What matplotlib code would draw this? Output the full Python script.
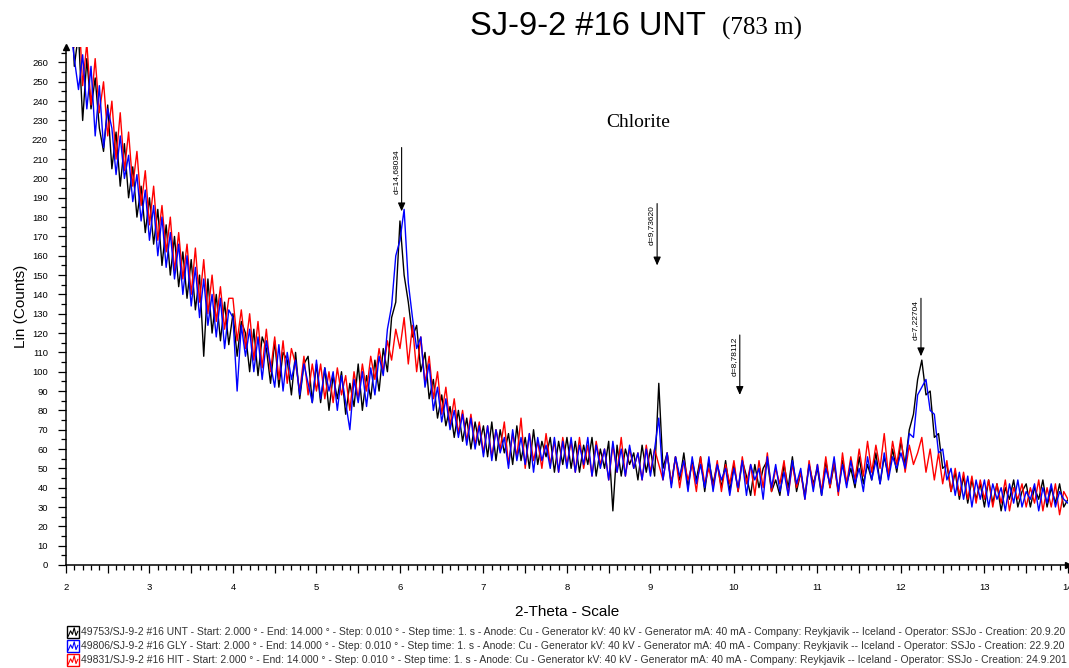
import numpy as np
import matplotlib.pyplot as plt
from matplotlib.ticker import MultipleLocator, FuncFormatter
from matplotlib.patches import Rectangle
from matplotlib.lines import Line2D

# scan grid, 2-theta (deg)
two_theta = np.linspace(2.0, 14.0, 241)

# counts, 0.05 deg apart
unt_counts = [
    292, 306, 258, 275, 230, 262, 236, 252, 226, 214, 238, 205, 224, 196, 218, 190, 206, 180, 196, 172,
    190, 166, 184, 155, 176, 150, 170, 144, 162, 138, 158, 132, 150, 108, 148, 120, 140, 116, 136, 114,
    130, 108, 126, 120, 100, 122, 98, 118, 112, 94, 116, 92, 110, 106, 88, 110, 86, 104, 108, 84,
    104, 84, 102, 80, 98, 86, 100, 78, 94, 82, 104, 80, 98, 86, 106, 90, 112, 100, 128, 136,
    178, 150, 136, 118, 124, 100, 110, 86, 96, 76, 88, 72, 82, 66, 80, 64, 76, 60, 74, 62,
    72, 56, 74, 54, 70, 58, 68, 52, 72, 54, 66, 50, 70, 52, 64, 56, 66, 48, 64, 52,
    66, 50, 64, 48, 62, 52, 66, 46, 60, 50, 64, 28, 62, 46, 60, 52, 58, 44, 62, 48,
    60, 46, 94, 50, 58, 42, 56, 44, 58, 40, 54, 44, 56, 38, 54, 42, 52, 40, 54, 38,
    52, 38, 54, 46, 36, 52, 40, 50, 54, 38, 44, 36, 52, 40, 56, 38, 48, 36, 52, 42,
    50, 36, 54, 40, 52, 38, 54, 42, 50, 40, 56, 42, 52, 44, 58, 42, 56, 46, 60, 48,
    64, 52, 70, 78, 96, 106, 88, 90, 66, 68, 50, 52, 38, 48, 34, 46, 32, 44, 34, 42,
    30, 44, 32, 42, 28, 40, 34, 44, 30, 38, 42, 30, 40, 34, 44, 30, 40, 32, 42, 30,
    34,
]
gly_counts = [
    310, 280, 262, 246, 264, 236, 258, 222, 248, 216, 236, 226, 202, 222, 200, 212, 188, 202, 178, 194,
    168, 186, 160, 180, 154, 172, 148, 166, 140, 160, 134, 154, 128, 148, 124, 140, 118, 138, 112, 132,
    128, 90, 124, 108, 122, 100, 118, 96, 116, 104, 92, 114, 90, 110, 96, 106, 88, 104, 94, 84,
    106, 86, 102, 90, 100, 80, 98, 84, 70, 96, 84, 100, 82, 102, 88, 108, 98, 122, 134, 160,
    168, 184, 146, 128, 112, 118, 92, 104, 80, 92, 74, 86, 70, 80, 66, 78, 62, 76, 60, 72,
    56, 72, 54, 70, 58, 66, 50, 70, 54, 66, 52, 68, 48, 66, 54, 62, 50, 66, 48, 64,
    50, 66, 48, 62, 52, 66, 46, 62, 50, 60, 44, 64, 48, 60, 46, 62, 50, 58, 44, 60,
    46, 60, 76, 44, 58, 40, 56, 46, 54, 38, 56, 42, 52, 40, 56, 38, 52, 44, 50, 36,
    50, 40, 54, 36, 52, 44, 50, 34, 56, 40, 52, 38, 48, 36, 54, 42, 50, 34, 52, 38,
    52, 36, 50, 42, 56, 38, 52, 40, 54, 42, 50, 38, 56, 44, 54, 42, 58, 44, 56, 50,
    58, 50, 68, 66, 88, 92, 96, 80, 78, 58, 60, 44, 50, 36, 48, 34, 46, 30, 44, 34,
    44, 30, 42, 34, 40, 28, 42, 32, 44, 30, 38, 34, 42, 28, 40, 32, 42, 30, 38, 34,
    32,
]
hit_counts = [
    296, 312, 268, 290, 248, 270, 238, 262, 234, 250, 222, 240, 210, 234, 204, 224, 196, 214, 186, 204,
    176, 196, 168, 186, 162, 180, 152, 172, 148, 166, 140, 164, 136, 158, 130, 150, 126, 144, 122, 138,
    138, 116, 132, 112, 130, 106, 126, 102, 122, 100, 118, 96, 116, 94, 112, 104, 90, 108, 88, 104,
    90, 104, 86, 100, 84, 102, 88, 98, 80, 100, 86, 104, 90, 108, 96, 112, 100, 116, 106, 122,
    112, 128, 104, 124, 100, 118, 94, 108, 86, 100, 78, 92, 72, 86, 68, 80, 64, 78, 62, 74,
    58, 72, 56, 70, 60, 74, 52, 68, 56, 76, 50, 68, 54, 64, 50, 68, 52, 64, 48, 66,
    52, 64, 48, 66, 50, 62, 46, 64, 52, 60, 44, 62, 48, 66, 46, 60, 50, 58, 44, 62,
    48, 60, 52, 44, 58, 42, 56, 40, 54, 44, 52, 38, 56, 42, 50, 40, 54, 38, 52, 42,
    54, 38, 56, 42, 52, 36, 54, 40, 58, 38, 50, 42, 54, 36, 52, 40, 48, 34, 54, 40,
    52, 38, 56, 40, 54, 36, 58, 42, 56, 44, 60, 46, 64, 48, 62, 50, 68, 46, 64, 52,
    66, 48, 62, 52, 58, 66, 48, 60, 44, 58, 42, 54, 38, 50, 36, 48, 34, 46, 32, 44,
    34, 44, 30, 42, 32, 44, 28, 40, 34, 42, 30, 40, 32, 44, 28, 40, 30, 42, 26, 38,
    34,
]

scan_ids = ["49753/SJ-9-2 #16 UNT", "49806/SJ-9-2 #16 GLY", "49831/SJ-9-2 #16 HIT"]
creation = ["20.9.20", "22.9.20", "24.9.201"]
scan_colors = ["black", "blue", "red"]

# peak markers
d_labels = ["d=14,68034", "d=9,73620", "d=8,78112", "d=7,22704"]
d_pos = [6.02, 9.08, 10.07, 12.24]
d_top = [216, 187, 119, 138]
d_bot = [183, 155, 88, 108]

fig = plt.figure(figsize=(10.69, 6.68), dpi=100)
ax = fig.add_axes([0.0617, 0.1542, 0.9373, 0.7754])

ax.plot(two_theta, unt_counts, color="black", lw=1.0)
ax.plot(two_theta, hit_counts, color="red", lw=1.0)
ax.plot(two_theta, gly_counts, color="blue", lw=1.0)

ax.set_xlim(2, 14)
ax.set_ylim(0, 268)
for s in ["top", "right"]:
    ax.spines[s].set_visible(False)
ax.spines["left"].set_linewidth(1.1)
ax.spines["bottom"].set_linewidth(1.1)

ax.xaxis.set_major_locator(MultipleLocator(0.5))
ax.xaxis.set_minor_locator(MultipleLocator(0.1))
ax.xaxis.set_major_formatter(FuncFormatter(lambda v, p: "%d" % v if abs(v - round(v)) < 1e-6 else ""))
ax.yaxis.set_major_locator(MultipleLocator(10))
ax.yaxis.set_minor_locator(MultipleLocator(5))
ax.tick_params(axis="both", which="major", length=6, width=0.9, labelsize=6.8, direction="out")
ax.tick_params(axis="both", which="minor", length=3.5, width=0.9, direction="out")
ax.tick_params(axis="x", which="major", pad=7)
ax.tick_params(axis="y", which="major", pad=7)
for lab in ax.get_xticklabels() + ax.get_yticklabels():
    lab.set_family("Liberation Sans")

ax.plot(1, 0, ">k", transform=ax.transAxes, clip_on=False, ms=4)
ax.plot(0, 1, "^k", transform=ax.transAxes, clip_on=False, ms=4)

ax.set_xlabel("2-Theta - Scale", fontsize=11, family="Liberation Sans", labelpad=9)
ax.set_ylabel("Lin (Counts)", fontsize=11, family="Liberation Sans", labelpad=3)

for lab, x, top, bot in zip(d_labels, d_pos, d_top, d_bot):
    ax.annotate("", xy=(x, bot), xytext=(x, top),
                arrowprops=dict(arrowstyle="-|>,head_length=0.5,head_width=0.22",
                                color="black", lw=0.8, shrinkA=0, shrinkB=0))
    ax.annotate(lab, xy=(x, top), xytext=(-1.5, -1), textcoords="offset points",
                rotation=90, ha="right", va="top", fontsize=6, family="Liberation Sans")

fig.text(0.597, 0.810, "Chlorite", fontsize=14, family="Liberation Serif",
         ha="center", va="baseline")

fig.text(0.4397, 0.9476, "SJ-9-2 #16 UNT", fontsize=23.5, family="Liberation Sans", va="baseline")
fig.text(0.675, 0.9476, "(783 m)", fontsize=18, family="Liberation Serif", va="baseline")

# scan info rows
for i, (sid, cr, col) in enumerate(zip(scan_ids, creation, scan_colors)):
    yc = 1 - (632 + 14 * i) / 668
    x0 = 67 / 1069
    w = 12 / 1069
    h = 12 / 668
    fig.add_artist(Rectangle((x0, yc - h / 2), w, h, transform=fig.transFigure,
                             fill=True, facecolor="white", edgecolor=col, lw=1))
    wx = x0 + w * np.array([0.1, 0.3, 0.45, 0.6, 0.75, 0.9])
    wy = yc + h * np.array([-0.35, 0.1, -0.2, 0.35, -0.3, 0.05])
    fig.add_artist(Line2D(wx, wy, transform=fig.transFigure, color=col, lw=0.8))
    info = (sid + " - Start: 2.000 \u00b0 - End: 14.000 \u00b0 - Step: 0.010 \u00b0 - Step time: 1. s"
            " - Anode: Cu - Generator kV: 40 kV - Generator mA: 40 mA - Company: Reykjavik -- Iceland"
            " - Operator: SSJo - Creation: " + cr)
    fig.text(81 / 1069, yc, info, fontsize=7.45, family="Liberation Sans", color="#333333",
             va="center", ha="left")

fig.savefig("out.png", dpi=100)
